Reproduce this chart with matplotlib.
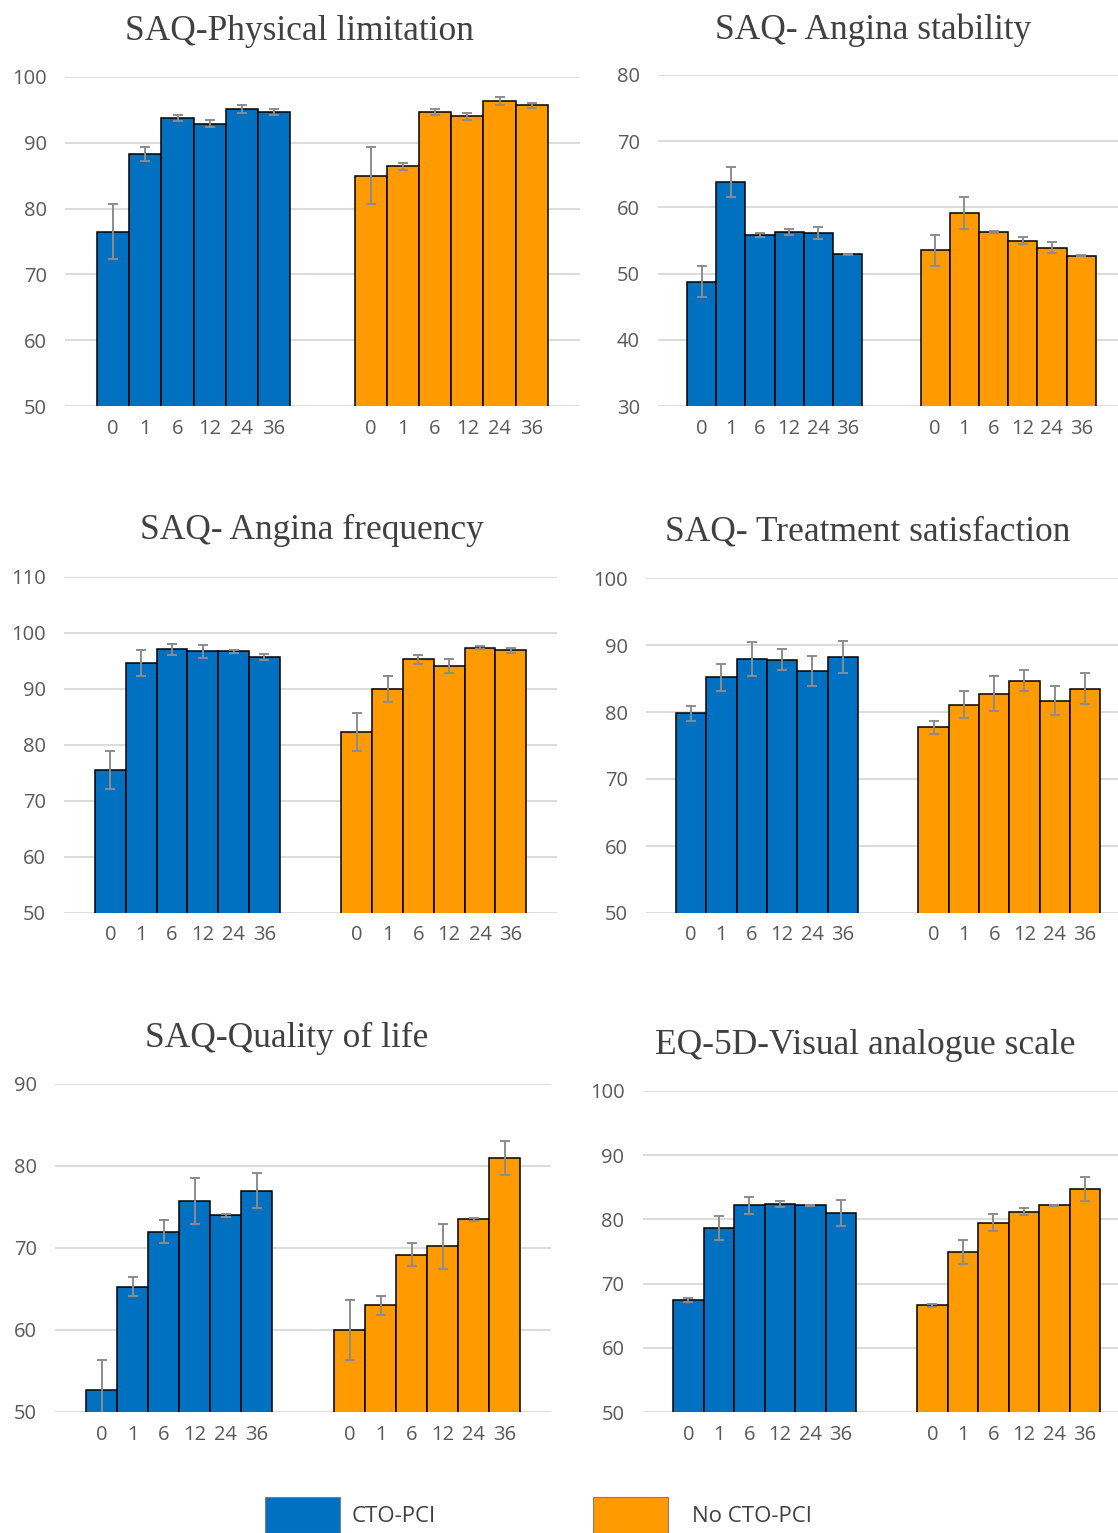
import matplotlib.pyplot as plt
from matplotlib.patches import Rectangle

months = ["0", "1", "6", "12", "24", "36"]
titles = ["SAQ-Physical limitation", "SAQ- Angina stability",
          "SAQ- Angina frequency", "SAQ- Treatment satisfaction",
          "SAQ-Quality of life", "EQ-5D-Visual analogue scale"]
legend_labels = ["CTO-PCI", "No CTO-PCI"]

# mean scores and error bar half-widths
pl_cto = [76.5, 88.3, 93.8, 92.9, 95.1, 94.7]
pl_cto_err = [4.2, 1.0, 0.5, 0.5, 0.6, 0.4]
pl_no = [85.0, 86.4, 94.7, 94.0, 96.3, 95.7]
pl_no_err = [4.3, 0.6, 0.4, 0.5, 0.6, 0.4]

as_cto = [48.8, 63.8, 55.8, 56.3, 56.1, 52.9]
as_cto_err = [2.4, 2.3, 0.3, 0.5, 0.9, 0.1]
as_no = [53.5, 59.1, 56.3, 55.0, 53.9, 52.7]
as_no_err = [2.4, 2.4, 0.2, 0.5, 0.8, 0.1]

af_cto = [75.6, 94.6, 97.1, 96.7, 96.7, 95.7]
af_cto_err = [3.4, 2.3, 1.0, 1.2, 0.3, 0.5]
af_no = [82.4, 90.0, 95.3, 94.1, 97.4, 96.9]
af_no_err = [3.4, 2.3, 0.8, 1.3, 0.3, 0.5]

ts_cto = [79.8, 85.2, 87.9, 87.8, 86.1, 88.2]
ts_cto_err = [1.1, 2.0, 2.6, 1.6, 2.2, 2.4]
ts_no = [77.7, 81.1, 82.7, 84.7, 81.7, 83.5]
ts_no_err = [1.0, 2.0, 2.6, 1.6, 2.2, 2.3]

ql_cto = [52.7, 65.3, 72.0, 75.7, 74.0, 77.0]
ql_cto_err = [3.7, 1.2, 1.4, 2.8, 0.2, 2.1]
ql_no = [60.0, 63.0, 69.2, 70.2, 73.5, 81.0]
ql_no_err = [3.7, 1.2, 1.4, 2.7, 0.2, 2.1]

vas_cto = [67.5, 78.7, 82.2, 82.4, 82.2, 81.0]
vas_cto_err = [0.3, 1.9, 1.3, 0.5, 0.1, 2.0]
vas_no = [66.6, 74.9, 79.5, 81.2, 82.2, 84.7]
vas_no_err = [0.3, 1.9, 1.3, 0.5, 0.1, 1.9]

ylims = [(50, 100), (30, 80), (50, 110), (50, 100), (50, 90), (50, 100)]

panels = [
    (pl_cto, pl_cto_err, pl_no, pl_no_err),
    (as_cto, as_cto_err, as_no, as_no_err),
    (af_cto, af_cto_err, af_no, af_no_err),
    (ts_cto, ts_cto_err, ts_no, ts_no_err),
    (ql_cto, ql_cto_err, ql_no, ql_no_err),
    (vas_cto, vas_cto_err, vas_no, vas_no_err),
]

# layout in pixels: first bar left edge, bar width, top tick y, bottom tick y
layout = [(97, 32.2, 77, 406), (687, 29.2, 75, 406),
          (95, 30.8, 577, 913), (676, 30.3, 578, 913),
          (86, 31.0, 1084, 1412), (673, 30.5, 1091, 1412)]
title_pos = [(299, 32), (873, 30), (312, 530), (868, 532), (287, 1038), (865, 1045)]

W, H = 1118, 1533
BLUE = "#0070C0"
ORANGE = "#FF9A00"
GRID = "#d9d9d9"
TICK = "#595959"

fig = plt.figure(figsize=(W / 100, H / 100), dpi=100)

for i, (cto, cto_err, no, no_err) in enumerate(panels):
    x0, w, ytop, ybot = layout[i]
    left = x0 - w
    ax = fig.add_axes([left / W, 1 - ybot / H, 16 * w / W, (ybot - ytop) / H])
    xb = list(range(6))
    xo = [x + 8 for x in xb]
    err_kw = dict(ecolor="#8c8c8c", elinewidth=1.4, capsize=3.5, capthick=1.4)
    ax.bar(xb, cto, width=1.0, color=BLUE, edgecolor="black",
           linewidth=1.1, yerr=cto_err, error_kw=err_kw, zorder=2)
    ax.bar(xo, no, width=1.0, color=ORANGE, edgecolor="black",
           linewidth=1.1, yerr=no_err, error_kw=err_kw, zorder=2)
    lo, hi = ylims[i]
    ax.set_ylim(lo, hi)
    ax.set_xlim(-1.5, 14.5)
    ax.set_yticks(range(lo, hi + 1, 10))
    ax.set_xticks(xb + xo)
    ax.set_xticklabels(months * 2)
    ax.yaxis.grid(True, color=GRID, linewidth=1.3, zorder=0)
    ax.set_axisbelow(True)
    for s in ax.spines.values():
        s.set_visible(False)
    ax.tick_params(length=0, labelsize=14.5, labelcolor=TICK)
    ax.tick_params(axis="y", pad=13)
    ax.tick_params(axis="x", pad=9)
    for lab in ax.get_xticklabels() + ax.get_yticklabels():
        lab.set_family("Open Sans")
    tx, ty = title_pos[i]
    fig.text(tx / W, 1 - ty / H, titles[i], ha="center", va="center",
             family="Liberation Serif", fontsize=25.5, color="#404040")

# legend at bottom
for (px, tx, label), col in zip([(265, 352, legend_labels[0]),
                                 (593, 692, legend_labels[1])],
                                [BLUE, ORANGE]):
    fig.patches.append(Rectangle((px / W, 0), 75 / W, 36 / H,
                                 transform=fig.transFigure, facecolor=col,
                                 edgecolor="#7f7f7f", linewidth=0.8))
    fig.text(tx / W, 1 - 1517 / H, label, ha="left", va="center",
             family="Open Sans", fontsize=16, color="#404040")

fig.savefig("out.png", dpi=100, facecolor="white")
